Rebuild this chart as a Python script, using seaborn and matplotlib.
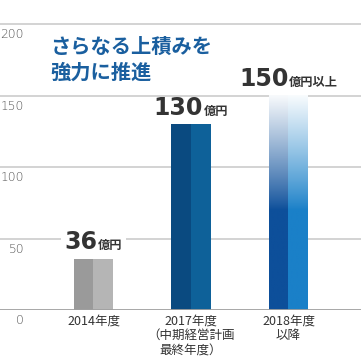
import numpy as np
import pandas as pd
import matplotlib.pyplot as plt
import matplotlib.transforms as mtransforms
from matplotlib.offsetbox import TextArea, HPacker, AnnotationBbox
from matplotlib.colors import to_rgb
import seaborn as sns

# data
years = ['2014年度', '2017年度\n（中期経営計画\n最終年度）', '2018年度\n以降']
amounts = [36, 130, 150]
amount_labels = ['36', '130', '150']
unit_labels = ['億円', '億円', '億円以上']
yticks = [0, 50, 100, 150, 200]
title = 'さらなる上積みを\n強力に推進'

sns.set_style('white')
plt.rcParams['font.family'] = ['Noto Sans CJK JP', 'DejaVu Sans']

# left / right half colours per bar
left_colors = ['#9a9a9a', '#0a4a80', '#0d4f9a']
right_colors = ['#b5b5b5', '#0e6199', '#1a80c8']

df = pd.DataFrame({
    'year': years * 2,
    'amount': amounts * 2,
    'half': ['L'] * len(years) + ['R'] * len(years),
})

fig = plt.figure(figsize=(3.61, 3.58), dpi=100)
ax = fig.add_axes([0, 48 / 358, 1, 310 / 358])

sns.barplot(data=df, x='year', y='amount', hue='half', order=years,
            hue_order=['L', 'R'], width=0.41, dodge=True, legend=False,
            saturation=1, errorbar=None, ax=ax, zorder=3)

for p in list(ax.patches):
    cx = p.get_x() + p.get_width() / 2
    i = int(round(cx))
    left = cx < i
    col = left_colors[i] if left else right_colors[i]
    p.set_facecolor(col)
    p.set_edgecolor('none')
    if i == 2:
        # fading top for the target bar
        h = p.get_height()
        v = np.linspace(0, h, 200)
        t = np.clip((v - 70) / (h - 70), 0, 1) ** 0.9 * 0.97
        rgb = np.array(to_rgb(col))
        img = (1 - t)[:, None] * rgb + t[:, None] * np.ones(3)
        img = img[:, None, :]
        ax.imshow(img, extent=[p.get_x(), p.get_x() + p.get_width(), 0, h],
                  origin='lower', aspect='auto', zorder=4, interpolation='bilinear')

ax.set_xlim(-93.5 / 97.5, (361 - 93.5) / 97.5)
ax.set_ylim(0, 216.8)

# grid
for v in yticks[1:]:
    ax.axhline(v, color='#d0d0d0', lw=1.3, zorder=1)
ax.axhline(0, color='#a0a0a0', lw=1.3, zorder=5)

for s in ax.spines.values():
    s.set_visible(False)
ax.set_yticks([])
ax.set_xlabel('')
ax.set_ylabel('')
ax.tick_params(axis='x', length=0, pad=3, labelsize=9, colors='#333333')
for lab in ax.get_xticklabels():
    lab.set_linespacing(1.2)
    lab.set_va('top')

# y values drawn inside the axes, below their gridline
tr = mtransforms.blended_transform_factory(ax.transAxes, ax.transData)
tr = tr + mtransforms.ScaledTranslation(0, -3 / 72, fig.dpi_scale_trans)
for v in yticks:
    ax.text(24 / 361, v, str(v), transform=tr, ha='right', va='top',
            fontsize=8.8, color='#555555', family='DejaVu Sans',
            fontweight='light')

# value labels
for i, (num, unit, v) in enumerate(zip(amount_labels, unit_labels, amounts)):
    big = TextArea(num, textprops=dict(fontsize=17, fontweight='bold',
                                       color='#333333', family='DejaVu Sans'))
    small = TextArea(unit, textprops=dict(fontsize=8.8, fontweight='bold',
                                          color='#333333'))
    pack = HPacker(children=[big, small], align='baseline', pad=0, sep=0.5)
    ab = AnnotationBbox(pack, (i, v), xybox=(0, 3), xycoords='data',
                        boxcoords='offset points', box_alignment=(0.5, 0),
                        frameon=(i == 0), pad=0.25, zorder=6,
                        bboxprops=dict(facecolor='white', edgecolor='none'))
    ax.add_artist(ab)

fig.text(50 / 361, 1 - 36 / 358, title, ha='left', va='top', fontsize=14.6,
         fontweight='bold', color='#1a5f9f', linespacing=1.3)

fig.savefig('out.png', dpi=100, facecolor='white')
